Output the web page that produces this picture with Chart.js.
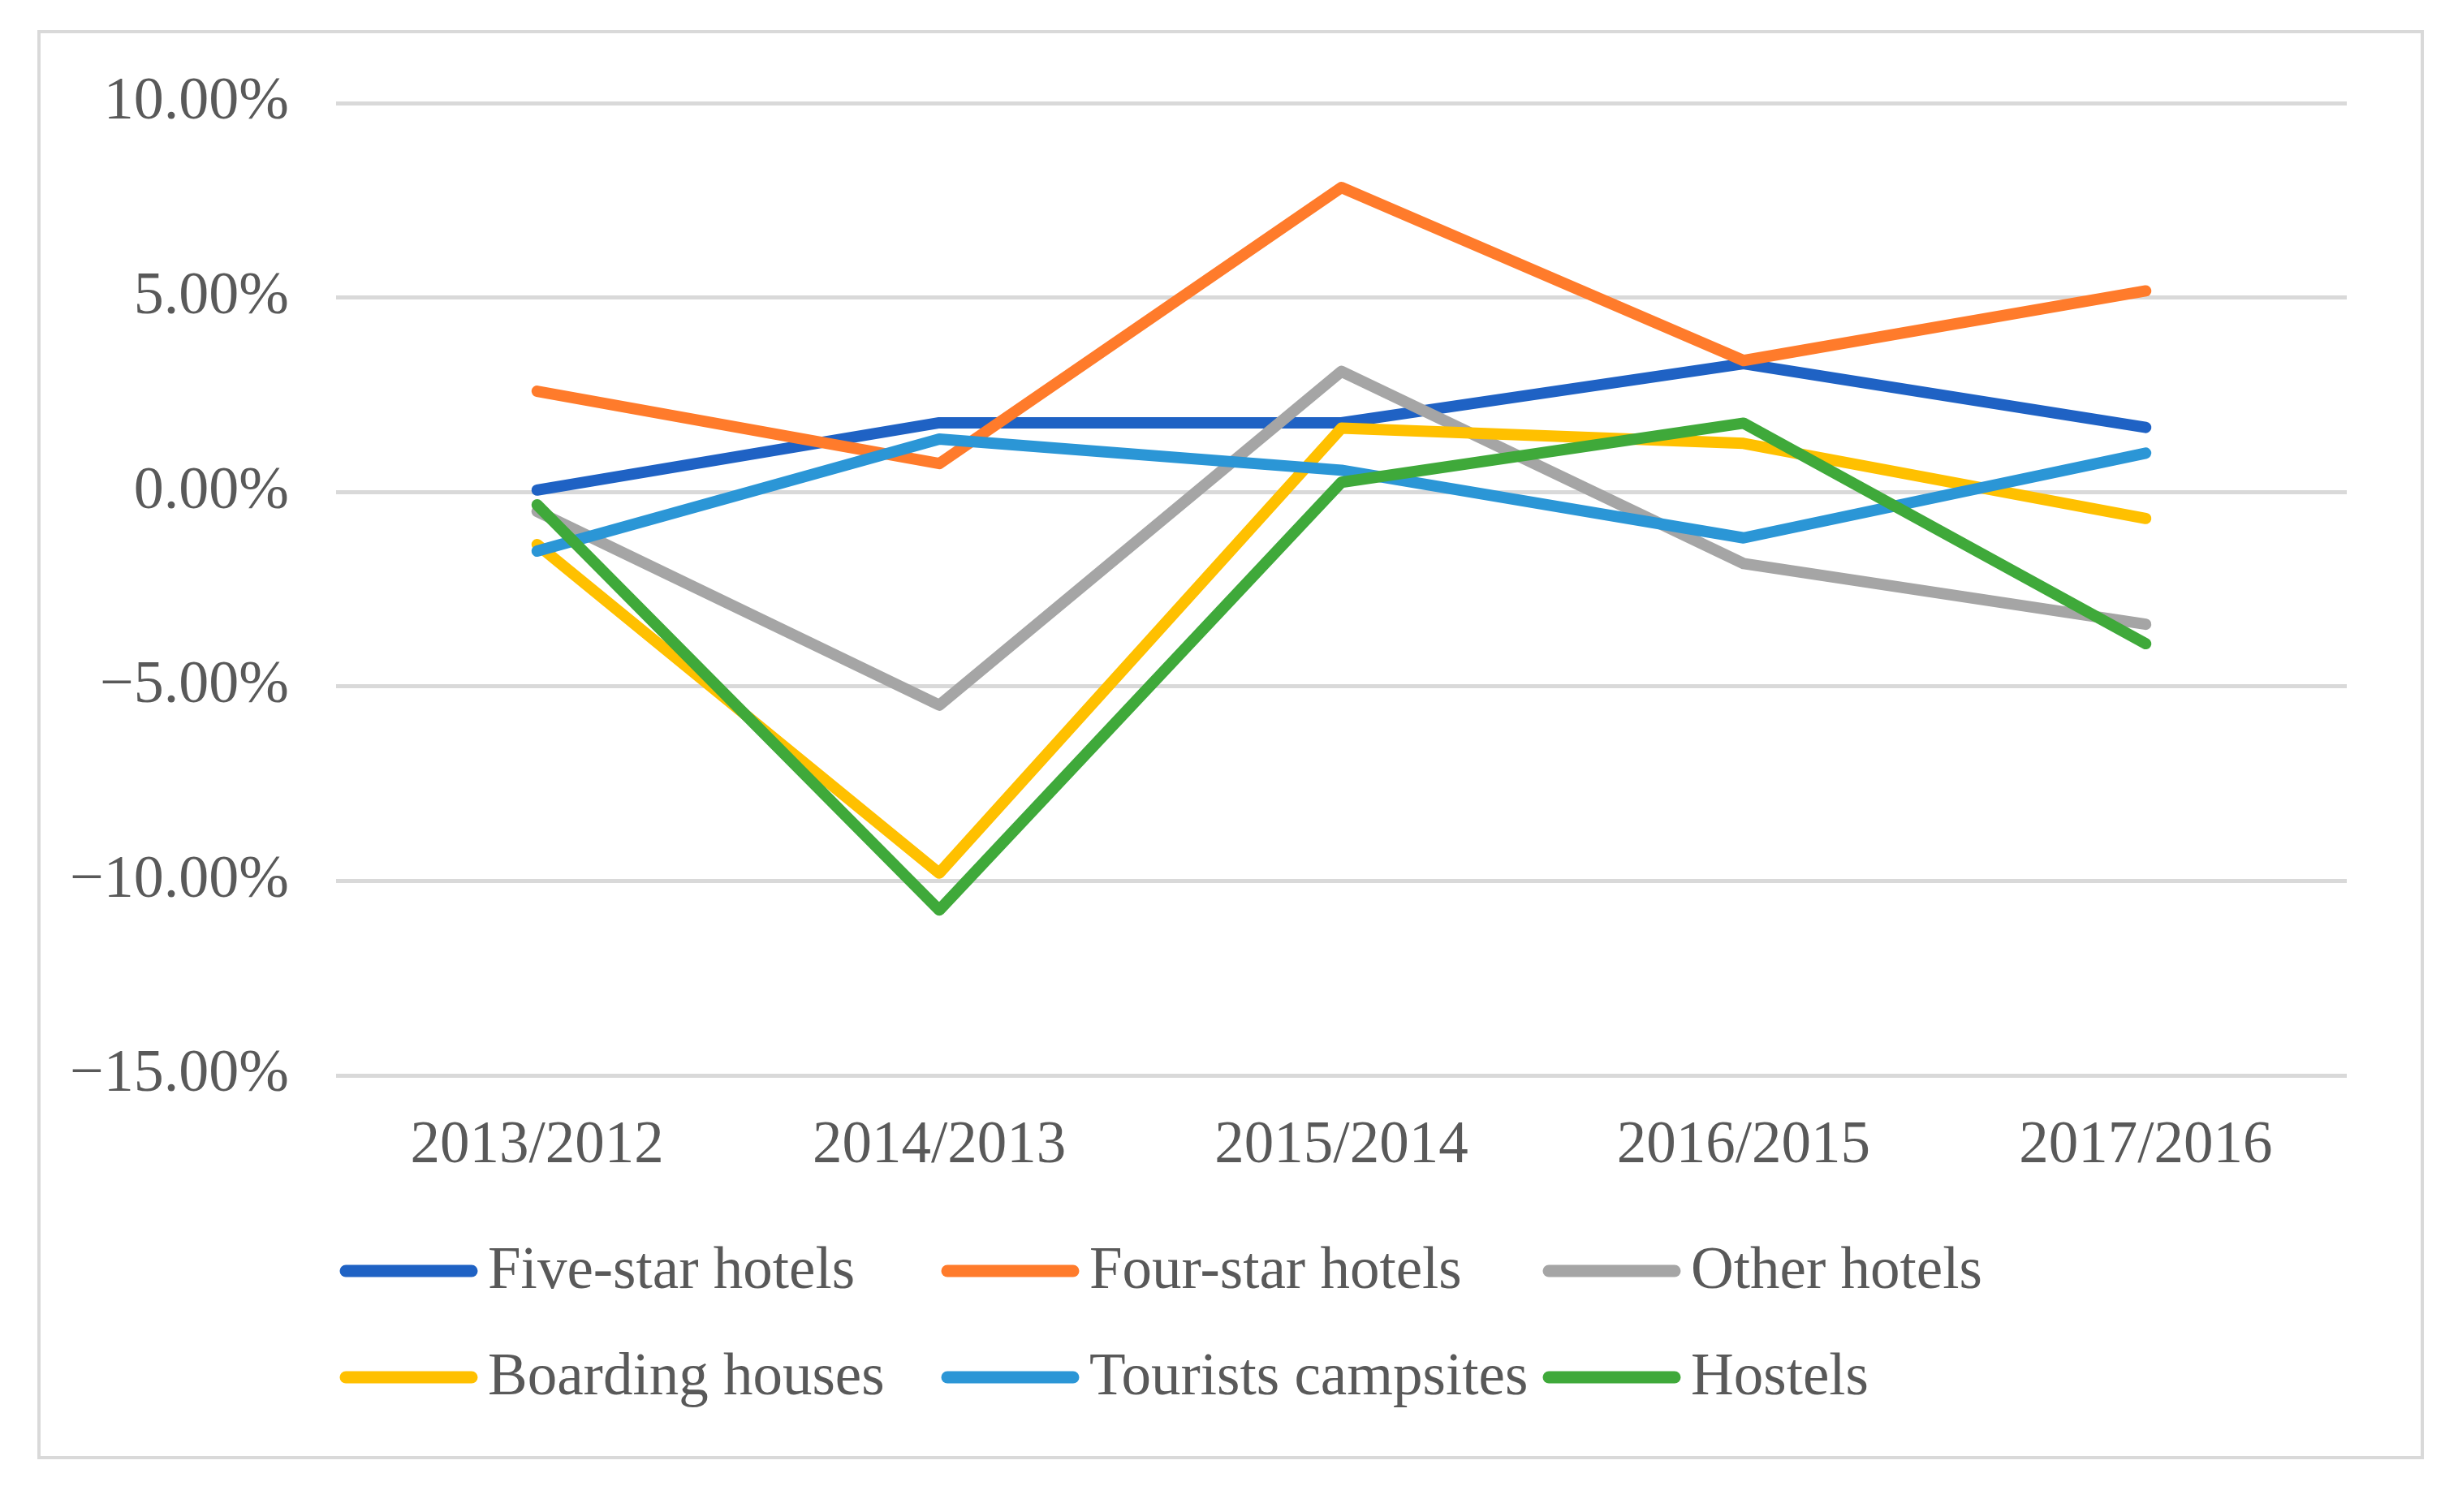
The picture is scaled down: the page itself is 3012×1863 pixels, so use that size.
<!DOCTYPE html>
<html><head><meta charset="utf-8">
<script src="https://cdn.jsdelivr.net/npm/chart.js@4"></script>
<style>html,body{margin:0;padding:0;background:#fff;} canvas{display:block;}</style>
</head><body>
<canvas id="c" width="3012" height="1863" style="width:3012px;height:1863px"></canvas>
<script>
const categories = ['2013/2012', '2014/2013', '2015/2014', '2016/2015', '2017/2016'];
const fiveStarHotels = [0.05, 1.78, 1.78, 3.30, 1.66];
const fourStarHotels = [2.59, 0.73, 7.83, 3.38, 5.17];
const otherHotels = [-0.50, -5.48, 3.10, -1.84, -3.40];
const boardingHouses = [-1.35, -9.80, 1.64, 1.25, -0.68];
const touristsCampsites = [-1.52, 1.36, 0.56, -1.18, 1.00];
const hostels = [-0.33, -10.75, 0.25, 1.77, -3.90];
const seriesNames = ['Five-star hotels', 'Four-star hotels', 'Other hotels', 'Boarding houses', 'Tourists campsites', 'Hostels'];
const seriesValues = [fiveStarHotels, fourStarHotels, otherHotels, boardingHouses, touristsCampsites, hostels];
const seriesColors = ['#1F62C4', '#FF7B2B', '#A5A5A5', '#FFC000', '#2B96D6', '#3FA93A'];
const yMin = -15, yMax = 10, yStep = 5;

const FONT = "'Liberation Serif', 'Times New Roman', serif";
const TEXT = '#595959';

const framePlugin = {
  id: 'frame',
  beforeDraw(chart) {
    const ctx = chart.ctx;
    ctx.save();
    ctx.fillStyle = '#ffffff';
    ctx.fillRect(0, 0, chart.width, chart.height);
    ctx.strokeStyle = '#D9D9D9';
    ctx.lineWidth = 4;
    ctx.strokeRect(48, 39, 2936, 1757);
    ctx.restore();
  }
};

const legendPlugin = {
  id: 'colLegend',
  afterDraw(chart) {
    const ctx = chart.ctx;
    ctx.save();
    ctx.font = '73px ' + FONT;
    ctx.textBaseline = 'middle';
    ctx.textAlign = 'left';
    chart.data.datasets.forEach((ds, i) => {
      const col = i % 3, row = Math.floor(i / 3);
      const x0 = 418 + col * 741;
      const y = 1566 + row * 131;
      ctx.strokeStyle = ds.borderColor;
      ctx.lineWidth = 15;
      ctx.lineCap = 'round';
      ctx.beginPath();
      ctx.moveTo(x0 + 8, y);
      ctx.lineTo(x0 + 163, y);
      ctx.stroke();
      ctx.fillStyle = TEXT;
      ctx.fillText(ds.label, x0 + 183, y + 2);
    });
    ctx.restore();
  }
};

new Chart(document.getElementById('c'), {
  type: 'line',
  data: {
    labels: categories,
    datasets: seriesNames.map((name, i) => ({
      label: name,
      data: seriesValues[i],
      borderColor: seriesColors[i],
      backgroundColor: seriesColors[i],
      borderWidth: 14,
      pointRadius: 0,
      pointHoverRadius: 0,
      tension: 0,
      fill: false,
      borderCapStyle: 'round',
      borderJoinStyle: 'round',
      order: seriesNames.length - i
    }))
  },
  options: {
    responsive: false,
    animation: false,
    devicePixelRatio: 1,
    layout: { padding: { left: 60, right: 121, top: 127, bottom: 403 } },
    plugins: { legend: { display: false }, tooltip: { enabled: false }, title: { display: false } },
    scales: {
      x: {
        offset: true,
        grid: { display: false, drawTicks: false },
        border: { display: false },
        ticks: { color: TEXT, font: { family: FONT, size: 73 }, padding: 44, maxRotation: 0, autoSkip: false },
        afterFit(scale) { scale.height = 135; }
      },
      y: {
        min: yMin, max: yMax,
        grid: { color: '#D9D9D9', lineWidth: 5, drawTicks: false },
        border: { display: false },
        ticks: {
          stepSize: yStep,
          color: TEXT,
          font: { family: FONT, size: 74 },
          padding: 58,
          callback: (v) => (v < 0 ? '\u2212' : '') + Math.abs(v).toFixed(2) + '%'
        },
        afterFit(scale) { scale.width = 354; }
      }
    }
  },
  plugins: [framePlugin, legendPlugin]
});
</script>
</body></html>
